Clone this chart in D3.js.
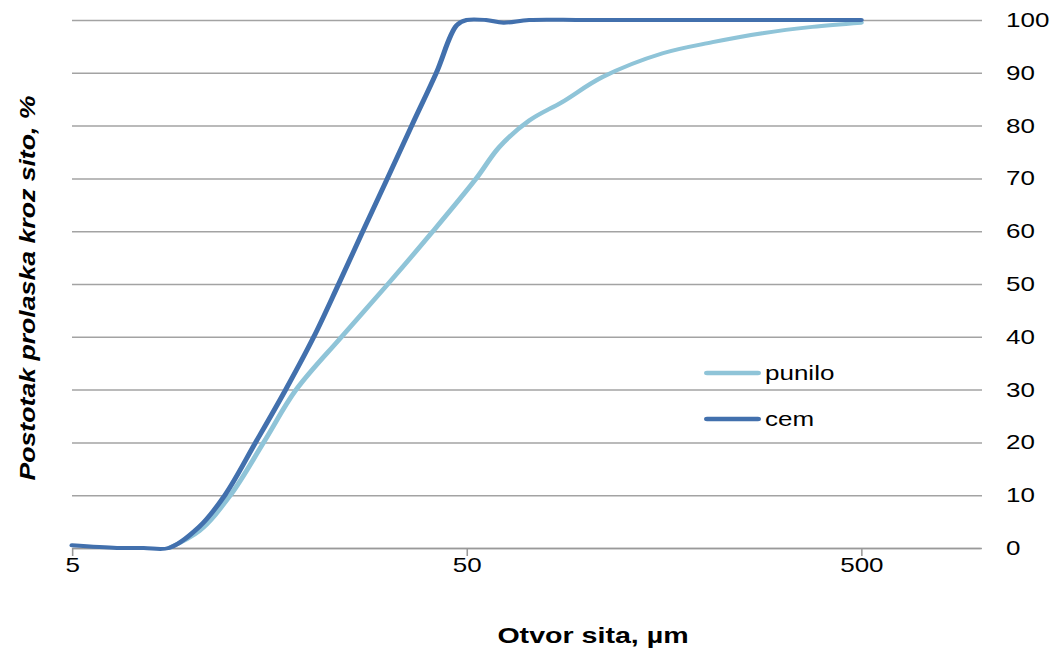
<!DOCTYPE html>
<html>
<head>
<meta charset="utf-8">
<script src="https://cdn.jsdelivr.net/npm/d3@7"></script>
<style>
  html, body { margin: 0; padding: 0; background: #fff; }
  svg { display: block; }
  text { font-family: "Liberation Sans", Arial, sans-serif; fill: #000; }
</style>
</head>
<body>
<svg id="chart" width="1057" height="648"></svg>
<script>
// Sieve opening (µm) and cumulative passing (%) for each material
const cemSize   = [5, 6.5, 7.6, 8.8, 10.5, 12.2, 14.6, 17.4, 20.5, 23.7, 27.3, 31.5, 36.3, 41.9, 47.2, 50, 56, 62, 72, 100, 200, 500];
const cemPass   = [0.5, 0, 0, 0, 4, 10, 20, 30, 40, 50, 60, 70, 80, 90, 99, 100, 100, 99.5, 100, 100, 100, 100];
const punSize   = [8.8, 10.5, 12.6, 15.3, 18.5, 24.1, 31.6, 41.1, 52.9, 60.6, 72.2, 87.5, 110.5, 157, 210, 281, 376, 500];
const punPass   = [0, 3.2, 10, 20, 30, 40, 50, 60, 70, 76, 81, 84.5, 89.2, 93.7, 95.8, 97.5, 98.7, 99.5];
const xTickValues = [5, 50, 500];
const yTickValues = [0, 10, 20, 30, 40, 50, 60, 70, 80, 90, 100];
const seriesNames = ["punilo", "cem"];
const seriesColors = ["#8fc4d8", "#4270ad"];

// The whole drawing is laid out in a narrower frame and widened horizontally
const SX = 1.3;
const svg = d3.select("#chart");
const g = svg.append("g").attr("transform", `scale(${SX},1)`);

const plotLeft = 72 / SX, plotRight = 980 / SX, gridRight = 982 / SX;
const plotTop = 20, plotBottom = 548;

const x = d3.scaleLog().domain([5, 1000]).range([plotLeft, plotRight]);
const y = d3.scaleLinear().domain([0, 100]).range([plotBottom, plotTop]);

// Horizontal gridlines with the value labels on the right
const yAxis = d3.axisRight(y)
  .tickValues(yTickValues)
  .tickSizeInner(-(gridRight - plotLeft))
  .tickSizeOuter(0)
  .tickPadding(18.5)
  .tickFormat(d3.format("d"));
const yg = g.append("g").attr("transform", `translate(${gridRight},0)`).call(yAxis);
yg.select(".domain").remove();
yg.selectAll(".tick line").attr("stroke", "#a3a3a3").attr("stroke-width", 1.5);
yg.selectAll(".tick text").attr("font-size", 20).attr("fill", "#000");

// Bottom axis (log scale)
const xAxis = d3.axisBottom(x)
  .tickValues(xTickValues)
  .tickSizeInner(8)
  .tickSizeOuter(0)
  .tickPadding(2)
  .tickFormat(d3.format("d"));
const xg = g.append("g").attr("transform", `translate(0,${plotBottom})`).call(xAxis);
xg.select(".domain").attr("stroke", "#999").attr("stroke-width", 1.5);
xg.selectAll(".tick line").attr("stroke", "#999").attr("stroke-width", 1.2);
xg.selectAll(".tick text").attr("font-size", 20).attr("fill", "#000");

// Smoothed curves through the measured points
const line = d3.line()
  .x(d => x(d[0]))
  .y(d => y(d[1]))
  .curve(d3.curveCatmullRom.alpha(0.5));

const series = [
  d3.zip(punSize, punPass),
  d3.zip(cemSize, cemPass)
];

g.selectAll("path.series")
  .data(series)
  .join("path")
  .attr("class", "series")
  .attr("fill", "none")
  .attr("stroke", (d, i) => seriesColors[i])
  .attr("stroke-width", 4)
  .attr("stroke-linejoin", "round")
  .attr("stroke-linecap", "round")
  .attr("d", line);

// Legend
const legend = g.append("g");
seriesNames.forEach((name, i) => {
  const ly = 373 + i * 46;
  legend.append("line")
    .attr("x1", 707 / SX).attr("x2", 758 / SX)
    .attr("y1", ly).attr("y2", ly)
    .attr("stroke", seriesColors[i])
    .attr("stroke-width", 4.5)
    .attr("stroke-linecap", "round");
  legend.append("text")
    .attr("x", 765 / SX).attr("y", ly)
    .attr("dy", "0.35em")
    .attr("font-size", 20)
    .text(name);
});

// Axis titles
g.append("text")
  .attr("x", 593 / SX).attr("y", 643)
  .attr("text-anchor", "middle")
  .attr("font-size", 22)
  .attr("font-weight", "bold")
  .text("Otvor sita, µm");

g.append("text")
  .attr("transform", `translate(${35 / SX},${288}) rotate(-90)`)
  .attr("text-anchor", "middle")
  .attr("font-size", 17)
  .attr("font-weight", "bold")
  .attr("font-style", "italic")
  .attr("textLength", 385)
  .attr("lengthAdjust", "spacingAndGlyphs")
  .text("Postotak prolaska kroz sito, %");
</script>
</body>
</html>
